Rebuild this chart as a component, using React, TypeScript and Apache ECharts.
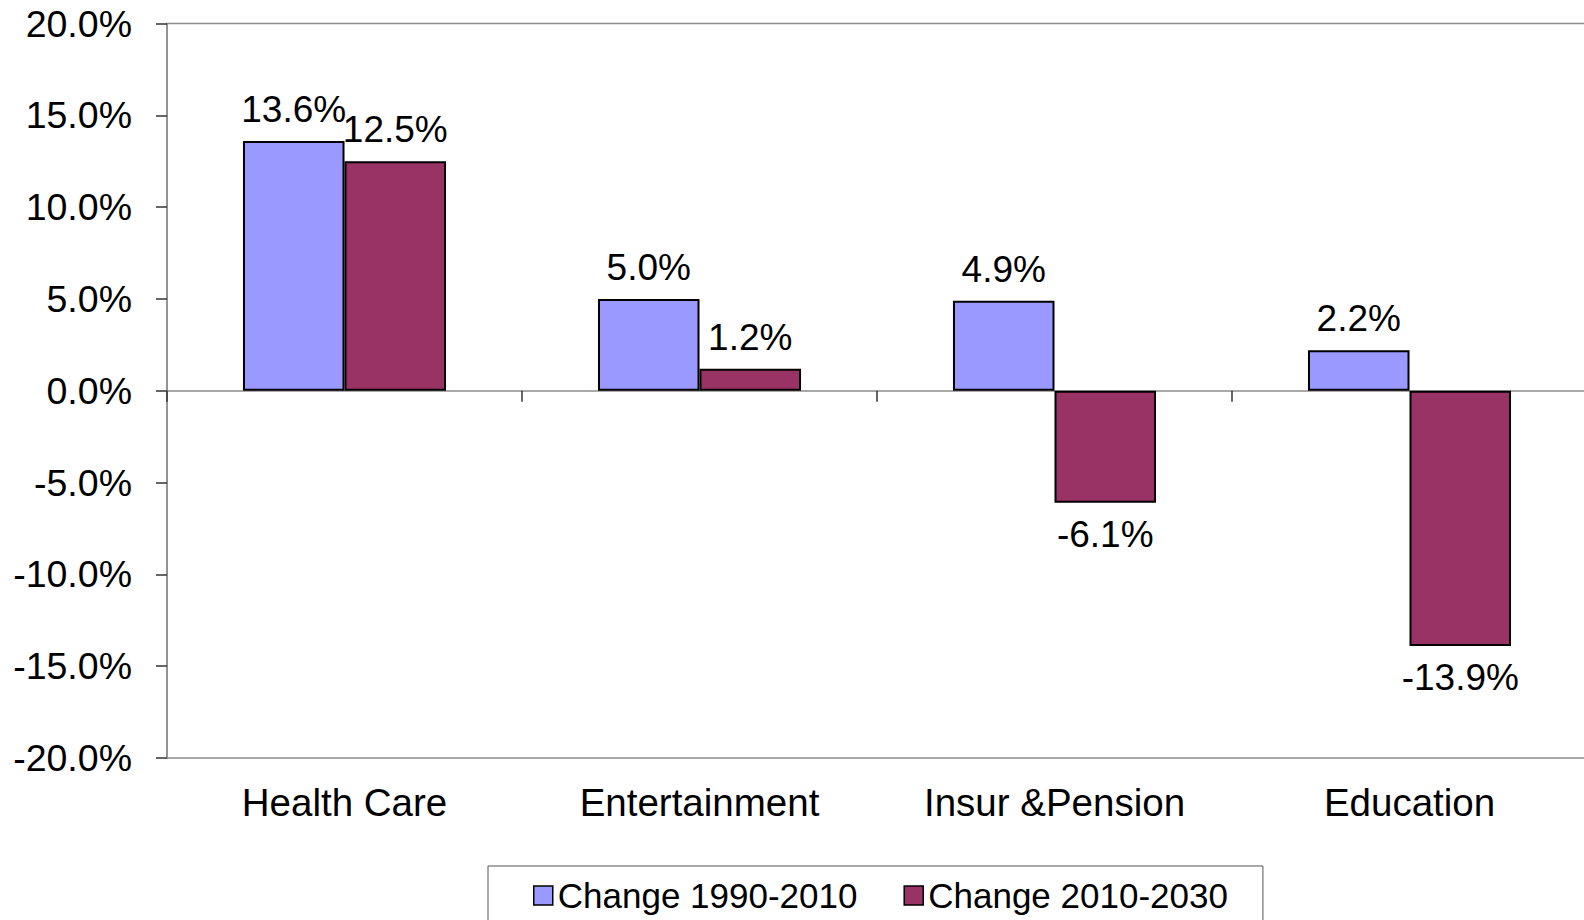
import React, { useEffect, useRef } from "react";
import * as echarts from "echarts";

const categories = ["Health Care", "Entertainment", "Insur &Pension", "Education"];
const seriesNames = ["Change 1990-2010", "Change 2010-2030"];
const change1990to2010 = [13.6, 5.0, 4.9, 2.2];
const change2010to2030 = [12.5, 1.2, -6.1, -13.9];
const yMin = -20;
const yMax = 20;
const yInterval = 5;

const FONT = "'Liberation Sans', Arial, sans-serif";
const fmt = (v: number) => `${Number(v).toFixed(1)}%`;

function toData(values: number[]) {
  return values.map((v) => ({
    value: v,
    label: { position: v < 0 ? "bottom" : "top" },
  }));
}

export default function App() {
  const ref = useRef<HTMLDivElement>(null);
  useEffect(() => {
    if (!ref.current) return;
    const chart = echarts.init(ref.current, undefined, { renderer: "svg" });
    const labelCfg = {
      show: true,
      distance: 13,
      fontSize: 37,
      color: "#000",
      fontFamily: FONT,
      formatter: (p: any) => fmt(p.value),
    };
    chart.setOption({
      animation: false,
      backgroundColor: "#fff",
      grid: {
        left: 167,
        top: 23.5,
        right: -3,
        bottom: 162,
        show: true,
        borderColor: "#8c8c8c",
        borderWidth: 1.5,
        containLabel: false,
        outerBoundsMode: "none",
      },
      legend: {
        left: 488,
        top: 866,
        orient: "horizontal",
        data: seriesNames,
        icon: "rect",
        itemWidth: 19,
        itemHeight: 19,
        itemGap: 46,
        padding: [12, 35, 60, 45],
        borderColor: "#555",
        borderWidth: 1,
        itemStyle: { borderColor: "#000", borderWidth: 1.5 },
        textStyle: { fontSize: 35, color: "#000", fontFamily: FONT },
      },
      xAxis: [
        {
          type: "category",
          data: categories,
          position: "bottom",
          axisLine: { show: true, onZero: true, lineStyle: { color: "#8c8c8c", width: 1.5 } },
          axisTick: { show: true, length: 11, lineStyle: { color: "#333", width: 1.5 } },
          axisLabel: { show: false },
          splitLine: { show: false },
        },
        {
          type: "category",
          data: categories,
          position: "bottom",
          axisLine: { show: false, onZero: false },
          axisTick: { show: false },
          axisLabel: { show: true, margin: 25, fontSize: 38.5, color: "#000", fontFamily: FONT },
          splitLine: { show: false },
        },
      ],
      yAxis: {
        type: "value",
        min: yMin,
        max: yMax,
        interval: yInterval,
        axisLine: { show: true, lineStyle: { color: "#8c8c8c", width: 1.5 } },
        axisTick: { show: true, length: 11, lineStyle: { color: "#333", width: 1.5 } },
        axisLabel: {
          margin: 35,
          fontSize: 37.5,
          color: "#000",
          fontFamily: FONT,
          formatter: (v: number) => fmt(v),
        },
        splitLine: { show: false },
      },
      series: [
        {
          name: seriesNames[0],
          type: "bar",
          xAxisIndex: 0,
          data: toData(change1990to2010),
          barGap: "0%",
          barCategoryGap: "42.8%",
          itemStyle: { color: "#9999FF", borderColor: "#000", borderWidth: 2 },
          label: labelCfg,
        },
        {
          name: seriesNames[1],
          type: "bar",
          xAxisIndex: 0,
          data: toData(change2010to2030),
          barGap: "0%",
          barCategoryGap: "42.8%",
          itemStyle: { color: "#993366", borderColor: "#000", borderWidth: 2 },
          label: labelCfg,
        },
      ],
    });
    return () => chart.dispose();
  }, []);
  return (
    <div
      ref={ref}
      style={{ position: "fixed", left: 0, top: 0, width: 1584, height: 920, background: "#fff" }}
    />
  );
}
